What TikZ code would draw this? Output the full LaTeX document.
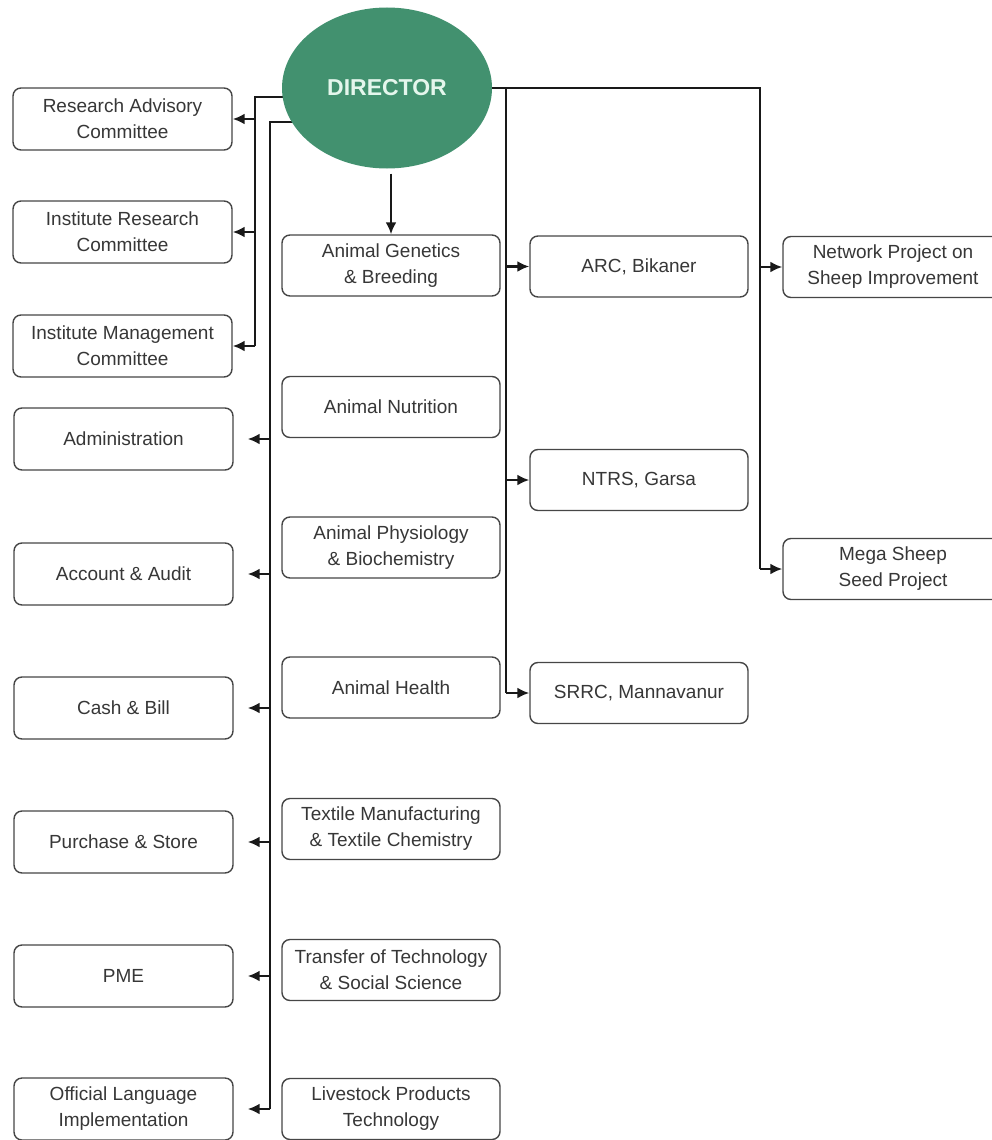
\documentclass[tikz,border=0pt]{standalone}
\usepackage{fontspec}
\setmainfont{Liberation Sans}
\usetikzlibrary{arrows.meta,backgrounds,shapes.geometric}
\definecolor{dirgreen}{RGB}{66,145,111}
\definecolor{dirtext}{RGB}{228,246,236}
\definecolor{boxline}{RGB}{70,70,70}
\definecolor{txt}{RGB}{55,55,55}
\definecolor{lncol}{RGB}{25,25,25}
\begin{document}
\begin{tikzpicture}[x=1pt,y=-1pt,
  box/.style={draw=boxline, line width=1.4pt, rounded corners=8pt, fill=white,
    align=center, text=txt, font=\fontsize{19}{26}\selectfont, inner sep=0pt},
  lbox/.style={box, minimum width=219pt, minimum height=62pt},
  mbox/.style={box, minimum width=218pt, minimum height=61pt},
  rbox/.style={box, minimum width=220pt, minimum height=61pt},
  ln/.style={line width=2.5pt, draw=lncol},
  arr/.style={ln, -{Latex[length=12pt,width=11pt]}}]
\useasboundingbox (0,0) rectangle (992,1140);

% director
\node[ellipse, fill=dirgreen, minimum width=210pt, minimum height=161pt, inner sep=0pt,
  text=dirtext, font=\fontsize{23}{26}\selectfont\bfseries] (director) at (387,88) {DIRECTOR};

% left column
\node[lbox] (rac) at (122.5,119) {Research Advisory\\Committee};
\node[lbox] (irc) at (122.5,232) {Institute Research\\Committee};
\node[lbox] (imc) at (122.5,346) {Institute Management\\Committee};
\node[lbox] (adm) at (123.5,439) {Administration};
\node[lbox] (acc) at (123.5,574) {Account \& Audit};
\node[lbox] (cash) at (123.5,708) {Cash \& Bill};
\node[lbox] (pur) at (123.5,842) {Purchase \& Store};
\node[lbox] (pme) at (123.5,976) {PME};
\node[lbox] (oli) at (123.5,1109) {Official Language\\Implementation};

% middle column
\node[mbox] (agb) at (391,265.5) {Animal Genetics\\\& Breeding};
\node[mbox] (an) at (391,407) {Animal Nutrition};
\node[mbox] (apb) at (391,547.5) {Animal Physiology\\\& Biochemistry};
\node[mbox] (ah) at (391,687.5) {Animal Health};
\node[mbox] (tm) at (391,829) {Textile Manufacturing\\\& Textile Chemistry};
\node[mbox] (tt) at (391,970) {Transfer of Technology\\\& Social Science};
\node[mbox] (lpt) at (391,1109) {Livestock Products\\Technology};

% right column 1
\node[mbox] (arc) at (639,266.5) {ARC, Bikaner};
\node[mbox] (ntrs) at (639,480) {NTRS, Garsa};
\node[mbox] (srrc) at (639,693) {SRRC, Mannavanur};

% right column 2
\node[rbox] (npsi) at (893,267) {Network Project on\\Sheep Improvement};
\node[rbox] (mssp) at (893,569) {Mega Sheep\\Seed Project};

\coordinate (v1) at (255,97);
\coordinate (v2) at (270,122);
\coordinate (v3) at (506,88);
\coordinate (v4) at (760,88);

\begin{scope}[on background layer]
\draw[ln] (director.center |- v1) -| (v1 |- imc.east);
\draw[ln] (director.center |- v2) -| (v2 |- oli.east);
\draw[ln] (director.center) -- (v4) -- (v4 |- mssp.west);
\draw[ln] (v3) -- (v3 |- srrc.west);
\end{scope}

\draw[arr] (v1 |- rac.east) -- (rac.east);
\draw[arr] (v1 |- irc.east) -- (irc.east);
\draw[arr] (v1 |- imc.east) -- (imc.east);

\foreach \n in {adm,acc,cash,pur,pme,oli}
  \draw[arr, shorten >=14pt] (v2 |- \n.east) -- (\n.east);

\draw[arr] ([yshift=-5pt]agb.north |- director.south) -- (agb.north);

\draw[arr] (v3 |- arc.west) -- (arc.west);
\draw[arr] (v3 |- ntrs.west) -- (ntrs.west);
\draw[arr] (v3 |- srrc.west) -- (srrc.west);

\draw[arr] (v4 |- npsi.west) -- (npsi.west);
\draw[arr] (v4 |- mssp.west) -- (mssp.west);
\end{tikzpicture}
\end{document}
